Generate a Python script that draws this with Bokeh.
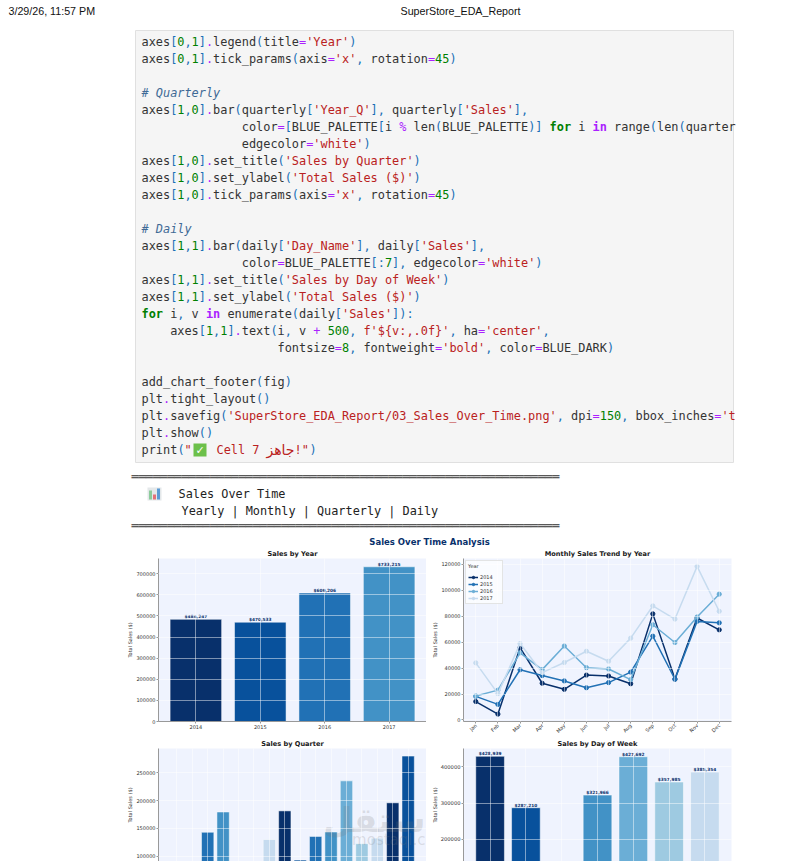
import re

from bokeh.core.properties import value
from bokeh.embed import file_html
from bokeh.layouts import column, row
from bokeh.models import (ColumnDataSource, FactorRange, Label, Legend, LegendItem,
                          NumeralTickFormatter, Range1d, Spacer)
from bokeh.plotting import figure
from bokeh.resources import INLINE

BLUE_PALETTE = ['#08306B', '#08519C', '#2171B5', '#4292C6', '#6BAED6', '#9ECAE1', '#C6DBEF']
PANEL_BG = '#EFF3FE'
AXIS_GRAY = '#999999'
TICK_TEXT = '#333333'
MONO = value("DejaVu Sans Mono")
SANS = value("DejaVu Sans")
ARIAL = value("Liberation Sans")

# chart data
years = ['2014', '2015', '2016', '2017']
year_sales = [484247, 470533, 609206, 733215]
year_ticks = [0, 100000, 200000, 300000, 400000, 500000, 600000, 700000]

months = ['Jan', 'Feb', 'Mar', 'Apr', 'May', 'Jun', 'Jul', 'Aug', 'Sep', 'Oct', 'Nov', 'Dec']
sales_2014 = [14200, 4500, 55700, 28300, 23600, 34600, 33900, 27900, 81800, 31500, 78600, 69500]
sales_2015 = [18200, 12000, 38700, 34200, 30100, 24800, 28800, 36900, 64600, 31400, 76000, 74900]
sales_2016 = [18500, 23000, 51700, 38800, 57000, 40300, 39300, 31100, 73400, 59700, 79400, 97000]
sales_2017 = [44000, 20300, 58900, 36500, 44300, 53000, 45300, 63100, 87900, 77800, 118400, 83800]
month_ticks = [0, 20000, 40000, 60000, 80000, 100000, 120000]

quarters = ['2014-Q1', '2014-Q2', '2014-Q3', '2014-Q4', '2015-Q1', '2015-Q2', '2015-Q3', '2015-Q4',
            '2016-Q1', '2016-Q2', '2016-Q3', '2016-Q4', '2017-Q1', '2017-Q2', '2017-Q3', '2017-Q4']
quarter_sales = [74000, 86000, 143000, 179500, 68000, 89000, 130000, 181500,
                 93000, 135500, 143500, 235500, 122500, 132500, 196000, 280000]
quarter_ticks = [100000, 150000, 200000, 250000]

days = ['Mon', 'Tue', 'Wed', 'Thu', 'Fri', 'Sat', 'Sun']
day_sales = [428939, 287210, 122000, 321966, 427692, 357985, 385354]
day_ticks = [200000, 300000, 400000]

# page text
code_lines = [
    "axes[0,1].legend(title='Year')",
    "axes[0,1].tick_params(axis='x', rotation=45)",
    "",
    "# Quarterly",
    "axes[1,0].bar(quarterly['Year_Q'], quarterly['Sales'],",
    "              color=[BLUE_PALETTE[i % len(BLUE_PALETTE)] for i in range(len(quarter",
    "              edgecolor='white')",
    "axes[1,0].set_title('Sales by Quarter')",
    "axes[1,0].set_ylabel('Total Sales ($)')",
    "axes[1,0].tick_params(axis='x', rotation=45)",
    "",
    "# Daily",
    "axes[1,1].bar(daily['Day_Name'], daily['Sales'],",
    "              color=BLUE_PALETTE[:7], edgecolor='white')",
    "axes[1,1].set_title('Sales by Day of Week')",
    "axes[1,1].set_ylabel('Total Sales ($)')",
    "for i, v in enumerate(daily['Sales']):",
    "    axes[1,1].text(i, v + 500, f'${v:,.0f}', ha='center',",
    "                   fontsize=8, fontweight='bold', color=BLUE_DARK)",
    "",
    "add_chart_footer(fig)",
    "plt.tight_layout()",
    "plt.savefig('SuperStore_EDA_Report/03_Sales_Over_Time.png', dpi=150, bbox_inches='t",
    "plt.show()",
]
output_lines = ["Sales Over Time", "Yearly | Monthly | Quarterly | Daily"]
rule = "\u2550" * 60

TOKEN_COLORS = {
    'comment': '#3F6A96', 'string': '#BA2121', 'keyword': '#008000', 'opword': '#AA22FF',
    'number': '#008000', 'op': '#AA22FF', 'punct': '#1A6FB5', 'name': '#333333',
}
TOKENS = re.compile(
    r"(?P<comment>#.*)|(?P<string>f?'[^']*'?)|(?P<keyword>\bfor\b)|(?P<opword>\bin\b)"
    r"|(?P<number>\b\d+\b)|(?P<op>[=+%.])"
    r"|(?P<punct>[\[\](){},:])|(?P<name>\w+)"
)
CHAR_W = 7.16
CODE_X = 141
CODE_Y = 41
LINE_H = 17


def header_figure():
    p = figure(width=797, height=547, x_range=Range1d(0, 797), y_range=Range1d(547, 0),
               x_axis_type=None, y_axis_type=None, toolbar_location=None,
               output_backend="svg", min_border=0, outline_line_color=None)
    p.grid.visible = False

    p.text([8], [10], text=["3/29/26, 11:57 PM"], text_font=ARIAL, text_font_size="10.7px",
           text_baseline="middle", text_color="#111111")
    p.text([460], [10], text=["SuperStore_EDA_Report"], text_font=ARIAL, text_font_size="10.7px",
           text_baseline="middle", text_align="center", text_color="#111111")

    p.quad(left=[135], right=[733], top=[30], bottom=[462], fill_color="#F5F5F5", line_color="#E0E0E0")

    xs, ys, texts, colors, styles = [], [], [], [], []
    for n, line in enumerate(code_lines):
        for m in TOKENS.finditer(line):
            kind = m.lastgroup
            xs.append(CODE_X + m.start() * CHAR_W)
            ys.append(CODE_Y + n * LINE_H)
            texts.append(m.group())
            colors.append(TOKEN_COLORS[kind])
            styles.append({'comment': 'italic', 'keyword': 'bold', 'opword': 'bold'}.get(kind, 'normal'))
    # the print line mixes an icon and right-to-left text, so it is laid out by hand
    print_y = CODE_Y + len(code_lines) * LINE_H
    for x, t, c in [(141, 'print', '#333333'), (177, '(', '#1A6FB5'), (184, '"', '#BA2121'),
                    (216, 'Cell 7', '#BA2121'), (294, '!"', '#BA2121'), (309, ')', '#1A6FB5')]:
        xs.append(x)
        ys.append(print_y)
        texts.append(t)
        colors.append(c)
        styles.append('normal')
    src = ColumnDataSource(data=dict(x=xs, y=ys, text=texts, color=colors, style=styles))
    p.text(x='x', y='y', text='text', text_color='color', text_font_style='style', source=src,
           text_font=MONO, text_font_size="11.9px", text_baseline="middle")
    p.text([266], [print_y], text=["\u062c\u0627\u0647\u0632"], text_font=SANS, text_font_size="14px",
           text_baseline="middle", text_color="#BA2121")

    # check mark icon
    p.quad(left=[193], right=[206], top=[443], bottom=[456], fill_color="#6CC04A", line_color=None)
    p.text([199.5], [449.5], text=["\u2713"], text_font=SANS, text_font_size="11px", text_color="white",
           text_align="center", text_baseline="middle", text_font_style="bold")

    # bar chart icon
    p.quad(left=[147], right=[161], top=[487], bottom=[500], fill_color="#E4E8EA", line_color=None)
    p.quad(left=[148.5, 152.5, 156.5], right=[151.5, 155.5, 159.5], top=[490, 494, 488], bottom=[499, 499, 499],
           fill_color=["#8CCB9B", "#E2727A", "#5B9BD5"], line_color=None)

    for y in [476, 525]:
        p.text([131], [y], text=[rule], text_font=MONO, text_font_size="11.85px",
               text_baseline="middle", text_color="#333333")
    p.text([178], [493.5], text=[output_lines[0]], text_font=MONO, text_font_size="11.85px",
           text_baseline="middle", text_color="#222222")
    p.text([181], [510.5], text=[output_lines[1]], text_font=MONO, text_font_size="11.85px",
           text_baseline="middle", text_color="#222222")

    p.text([429], [541.5], text=["Sales Over Time Analysis"], text_font=SANS, text_font_size="8.5px",
           text_font_style="bold", text_color="#08306B", text_align="center", text_baseline="middle")
    return p


def panel(title, factors, padding, y_range, ticks, width, frame_height, border_right, border_bottom,
          tick_size="5px", show_x=True):
    p = figure(width=width, frame_height=frame_height, title=title,
               x_range=FactorRange(factors=factors, range_padding=padding),
               y_range=y_range, toolbar_location=None, output_backend="svg",
               min_border_left=37, min_border_right=border_right, min_border_top=10,
               min_border_bottom=border_bottom,
               background_fill_color=PANEL_BG, outline_line_color=None)
    p.title.align = "center"
    p.title.text_font = "DejaVu Sans"
    p.title.text_font_size = "6.6px"
    p.title.text_color = "#1A1A1A"
    p.title.standoff = 1
    p.title.offset = 0

    p.yaxis.ticker = ticks
    p.yaxis.formatter = NumeralTickFormatter(format="0")
    p.yaxis.axis_label = "Total Sales ($)"
    p.yaxis.axis_label_text_font = "DejaVu Sans"
    p.yaxis.axis_label_text_font_size = "5px"
    p.yaxis.axis_label_text_font_style = "normal"
    p.yaxis.axis_label_text_color = TICK_TEXT
    p.yaxis.axis_label_standoff = 0
    p.axis.major_label_text_font = "DejaVu Sans"
    p.axis.major_label_text_font_size = tick_size
    p.axis.major_label_text_color = TICK_TEXT
    p.axis.major_label_standoff = 1
    p.axis.major_tick_out = 2
    p.axis.major_tick_in = 0
    p.axis.minor_tick_line_color = None
    p.axis.axis_line_color = AXIS_GRAY
    p.axis.major_tick_line_color = AXIS_GRAY
    if not show_x:
        p.xaxis.visible = False

    p.grid.grid_line_color = "white"
    p.grid.grid_line_width = 0.8
    p.grid.grid_line_alpha = 0.6
    p.grid.level = "overlay"
    return p


def bars(p, factors, values, labels=True, label_size="4.3px"):
    colors = [BLUE_PALETTE[i % len(BLUE_PALETTE)] for i in range(len(factors))]
    src = ColumnDataSource(data=dict(x=factors, top=values, color=colors,
                                     label=['${:,.0f}'.format(v) for v in values]))
    p.vbar(x='x', top='top', bottom=0, width=0.8, fill_color='color', line_color='white',
           line_width=0.7, line_alpha=0.7, source=src)
    if labels:
        p.text(x='x', y='top', text='label', source=src, text_align="center", text_baseline="bottom",
               text_font=SANS, text_font_size=label_size, text_font_style="bold",
               text_color="#08306B")


def stamp(p, x, arabic, latin, align):
    # page stamp, it runs across the two bottom panels so each one draws its own part
    p.add_layout(Label(x=x, y=82, x_units="canvas", y_units="canvas", text=arabic,
                       text_align=align, text_baseline="middle",
                       text_font="DejaVu Sans", text_font_size="34px", text_font_style="bold",
                       text_color="#777777", text_alpha=0.2))
    p.add_layout(Label(x=x, y=102, x_units="canvas", y_units="canvas", text=latin,
                       text_align=align, text_baseline="middle",
                       text_font="DejaVu Sans", text_font_size="15px", text_color="#777777", text_alpha=0.2))


def footer_figure():
    p = figure(width=797, height=3, x_range=Range1d(0, 797), y_range=Range1d(0, 3),
               x_axis_type=None, y_axis_type=None, toolbar_location=None,
               output_backend="svg", min_border=0, outline_line_color=None)
    p.grid.visible = False
    p.quad(left=[125], right=[740], top=[2.5], bottom=[1.5], fill_color="#D8D8D8", line_color=None)
    return p


fig_year = panel("Sales by Year", years, 0.04, Range1d(0, 772500), year_ticks, 305, 163, 0, 18)
bars(fig_year, years, year_sales)

fig_month = panel("Monthly Sales Trend by Year", months, 0.0092, Range1d(-1200, 124500), month_ticks,
                  309, 163, 4, 18)
fig_month.xaxis.major_label_orientation = 0.785
items = []
for label, vals, color in [('2014', sales_2014, BLUE_PALETTE[0]), ('2015', sales_2015, BLUE_PALETTE[2]),
                           ('2016', sales_2016, BLUE_PALETTE[4]), ('2017', sales_2017, BLUE_PALETTE[6])]:
    ln = fig_month.line(months, vals, line_color=color, line_width=1.5)
    pts = fig_month.scatter(months, vals, size=4.2, fill_color=color, line_color=color)
    items.append(LegendItem(label=label, renderers=[ln, pts]))
legend = Legend(items=items, title="Year", location="top_left", margin=2, padding=2, spacing=1,
                label_text_font="DejaVu Sans", label_text_font_size="5px", label_text_color=TICK_TEXT,
                title_text_font="DejaVu Sans", title_text_font_size="5px", title_text_color=TICK_TEXT,
                title_text_font_style="normal", label_height=6, glyph_height=6, glyph_width=10, label_standoff=2,
                background_fill_alpha=0.7, border_line_color="#DDDDDD", border_line_alpha=0.8)
fig_month.add_layout(legend)

fig_quarter = panel("Sales by Quarter", quarters, 0.0862, Range1d(90470, 293700), quarter_ticks,
                    305, 113, 0, 0, show_x=False)
bars(fig_quarter, quarters, quarter_sales, labels=False)
stamp(fig_quarter, 304, "\u0633\u062a\u0642\u0644", "mostaql.c", "right")

fig_day = panel("Sales by Day of Week", days, 0.0694, Range1d(139100, 450400), day_ticks,
                309, 113, 4, 0, tick_size="5.2px", show_x=False)
bars(fig_day, days, day_sales)
stamp(fig_day, 0, "\u0645\u0640", "om", "left")

page = column(header_figure(),
              row(Spacer(width=121), fig_year, fig_month),
              row(Spacer(width=121), fig_quarter, fig_day, margin=(-2, 0, 0, 0)),
              footer_figure())

open("out.html", "w").write(file_html(page, INLINE))
